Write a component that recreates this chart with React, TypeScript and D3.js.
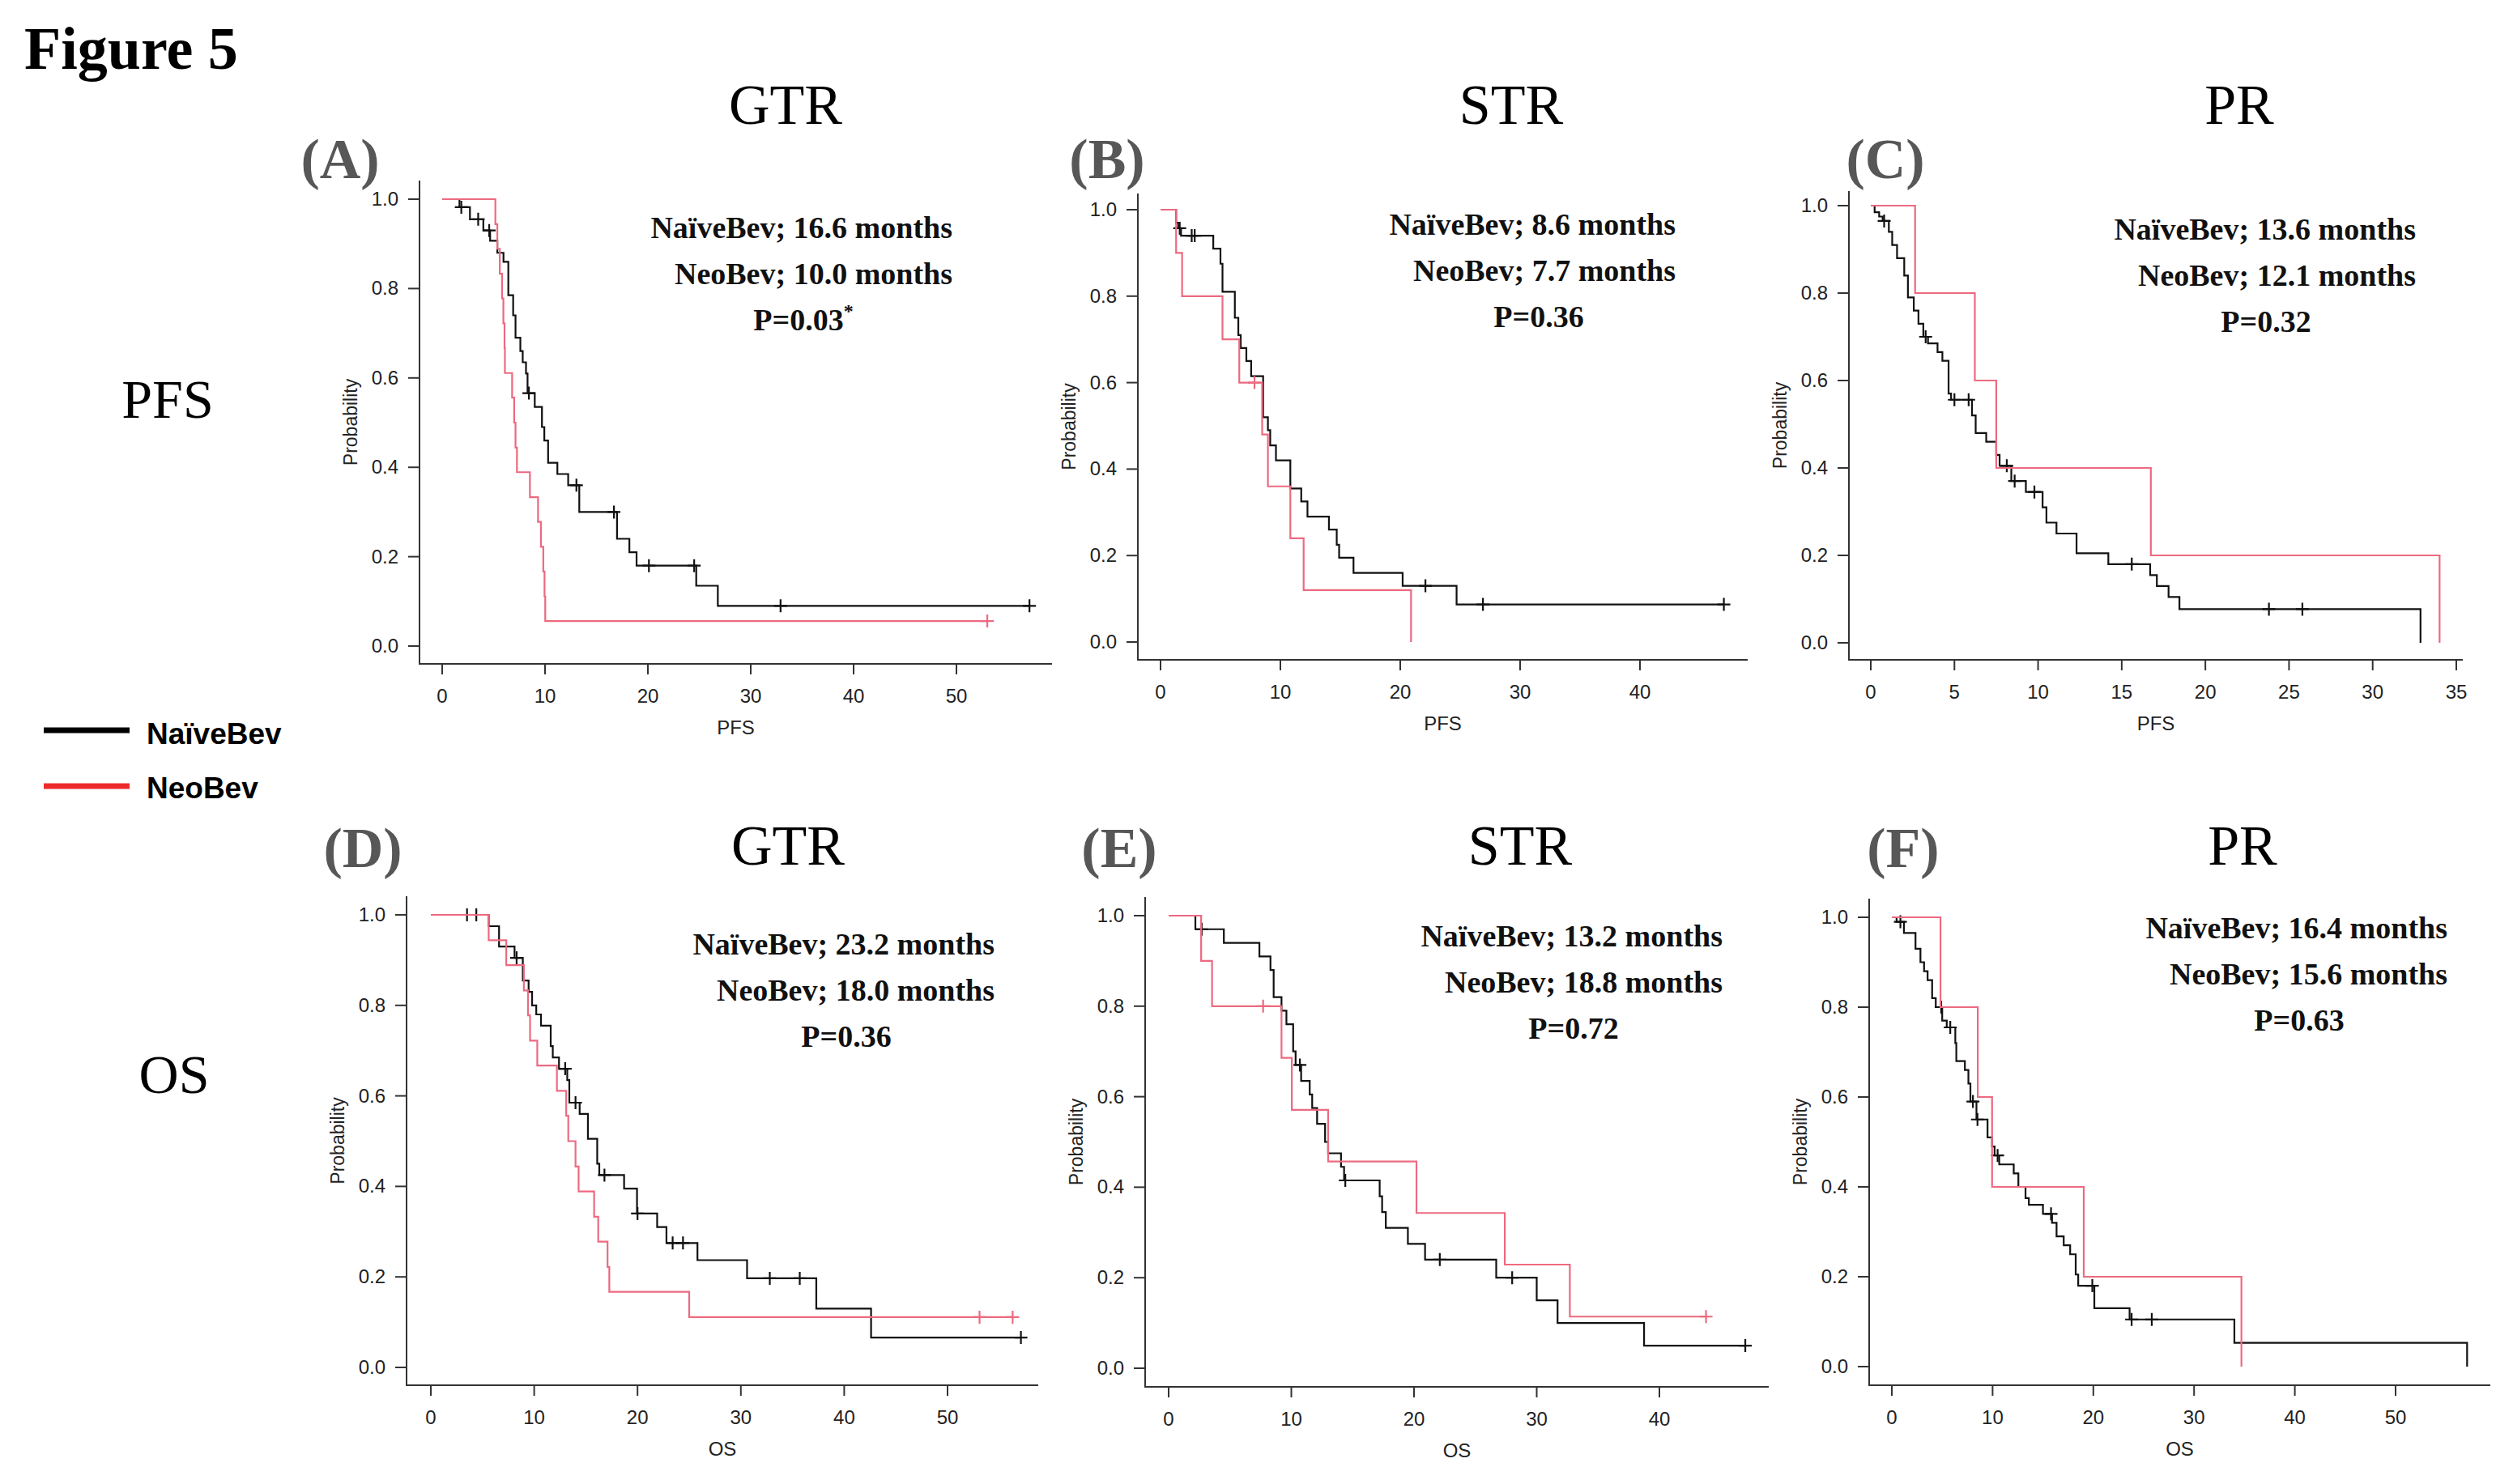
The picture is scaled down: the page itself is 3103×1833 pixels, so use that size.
import React from 'react';
import * as d3 from 'd3';

type Pt = [number, number];

const W = 3103;
const H = 1833;
const SERIF = '"Liberation Serif", "Times New Roman", serif';
const SANS = '"Liberation Sans", Arial, sans-serif';
const NAIVE_COLOR = '#111111';
const NEO_COLOR = '#ec6a80';

// Kaplan-Meier steps: [time, survival after the drop]; censor marks are times only

// (A) PFS, GTR
const pfsGtrNaive: Pt[] = [
  [1.68, 0.982], [2.7, 0.955], [4.0, 0.93], [4.66, 0.907], [5.36, 0.88], [5.96, 0.86],
  [6.43, 0.785], [6.9, 0.74], [7.13, 0.69], [7.6, 0.66], [7.83, 0.635], [8.15, 0.61],
  [8.3, 0.566], [9.0, 0.535], [9.7, 0.49], [9.93, 0.46], [10.3, 0.41], [11.2, 0.385],
  [12.25, 0.36], [13.33, 0.3], [17.0, 0.24], [18.2, 0.21], [18.9, 0.18], [24.7, 0.135],
  [26.8, 0.09],
];
const pfsGtrNaiveCens = [1.86, 3.5, 4.57, 8.43, 13.05, 16.7, 20.1, 24.5, 32.9, 57.1];
const pfsGtrNeo: Pt[] = [
  [5.17, 0.944], [5.36, 0.889], [5.6, 0.833], [5.82, 0.778], [5.95, 0.722], [6.06, 0.667],
  [6.1, 0.611], [6.8, 0.556], [7.0, 0.5], [7.13, 0.444], [7.27, 0.389], [8.53, 0.333],
  [9.32, 0.278], [9.6, 0.222], [9.83, 0.167], [9.95, 0.111], [10.02, 0.056],
];
const pfsGtrNeoCens = [53.0];

// (B) PFS, STR
const pfsStrNaive: Pt[] = [
  [1.3, 0.97], [1.47, 0.957], [1.71, 0.94], [4.4, 0.91], [5.0, 0.875], [5.17, 0.81],
  [6.2, 0.75], [6.49, 0.71], [6.69, 0.68], [7.16, 0.65], [7.56, 0.615], [8.56, 0.52],
  [8.96, 0.49], [9.15, 0.455], [9.63, 0.42], [10.83, 0.355], [11.74, 0.325], [12.26, 0.29],
  [14.05, 0.26], [14.7, 0.225], [14.9, 0.195], [16.1, 0.16], [20.2, 0.13], [24.7, 0.087],
];
const pfsStrNaiveCens = [1.6, 2.6, 2.85, 22.1, 26.9, 47.0];
const pfsStrNeo: Pt[] = [
  [1.3, 0.9], [1.8, 0.8], [5.17, 0.7], [6.57, 0.6], [8.48, 0.48], [8.96, 0.36],
  [10.83, 0.24], [11.94, 0.12], [20.9, 0],
];
const pfsStrNeoCens = [7.84];

// (C) PFS, PR
const pfsPrNaive: Pt[] = [
  [0.23, 0.985], [0.5, 0.975], [0.71, 0.965], [1.08, 0.94], [1.28, 0.91], [1.57, 0.88],
  [2.0, 0.84], [2.22, 0.79], [2.57, 0.76], [2.85, 0.73], [3.14, 0.7], [3.42, 0.685],
  [3.99, 0.665], [4.28, 0.645], [4.65, 0.57], [4.8, 0.556], [6.05, 0.52], [6.27, 0.48],
  [6.9, 0.46], [7.5, 0.43], [7.7, 0.405], [8.4, 0.37], [9.27, 0.345], [10.27, 0.31],
  [10.5, 0.275], [11.1, 0.25], [12.3, 0.205], [14.2, 0.18], [16.7, 0.155], [17.1, 0.13],
  [17.8, 0.105], [18.45, 0.077], [32.86, 0],
];
const pfsPrNaiveCens = [0.8, 3.28, 5.0, 5.85, 8.13, 8.6, 9.78, 15.6, 23.8, 25.8];
const pfsPrNeo: Pt[] = [[2.65, 0.8], [6.22, 0.6], [7.5, 0.4], [16.74, 0.2], [34.0, 0]];
const pfsPrNeoCens: number[] = [];

// (D) OS, GTR
const osGtrNaive: Pt[] = [
  [5.6, 0.975], [6.6, 0.93], [8.1, 0.905], [8.9, 0.855], [9.46, 0.83], [9.8, 0.8],
  [10.2, 0.78], [10.66, 0.755], [11.6, 0.71], [11.8, 0.685], [12.4, 0.66], [13.2, 0.635],
  [13.4, 0.585], [14.4, 0.56], [15.2, 0.505], [16.1, 0.45], [16.3, 0.425], [18.7, 0.395],
  [19.95, 0.34], [21.9, 0.31], [22.8, 0.275], [25.8, 0.237], [30.6, 0.197], [37.3, 0.13],
  [42.6, 0.066],
];
const osGtrNaiveCens = [3.5, 4.4, 8.3, 13.0, 14.0, 16.8, 20.0, 23.4, 24.4, 32.8, 35.7, 57.1];
const osGtrNeo: Pt[] = [
  [5.6, 0.944], [7.3, 0.889], [9.0, 0.833], [9.4, 0.778], [9.6, 0.722], [10.3, 0.667],
  [12.2, 0.611], [13.1, 0.556], [13.3, 0.5], [14.0, 0.444], [14.3, 0.389], [15.8, 0.333],
  [16.2, 0.278], [17.1, 0.222], [17.27, 0.167], [25.0, 0.111],
];
const osGtrNeoCens = [53.1, 56.3];

// (E) OS, STR
const osStrNaive: Pt[] = [
  [2.18, 0.97], [4.5, 0.94], [7.4, 0.91], [8.3, 0.88], [8.56, 0.82], [9.2, 0.79],
  [9.6, 0.76], [10.15, 0.7], [10.35, 0.67], [10.8, 0.635], [11.5, 0.605], [11.7, 0.575],
  [12.1, 0.54], [12.75, 0.5], [13.0, 0.475], [14.05, 0.445], [14.3, 0.415], [17.2, 0.38],
  [17.4, 0.345], [17.7, 0.31], [19.5, 0.275], [20.9, 0.24], [26.7, 0.2], [30.0, 0.15],
  [31.7, 0.1], [38.75, 0.05],
];
const osStrNaiveCens = [2.7, 10.7, 14.4, 22.1, 28.0, 47.0];
const osStrNeo: Pt[] = [
  [2.65, 0.9], [3.54, 0.8], [9.2, 0.686], [10.04, 0.571], [13.0, 0.457], [20.2, 0.343],
  [27.4, 0.229], [32.7, 0.114],
];
const osStrNeoCens = [7.7, 43.8];

// (F) OS, PR
const osPrNaive: Pt[] = [
  [0.47, 0.99], [1.2, 0.965], [2.35, 0.93], [2.84, 0.9], [3.2, 0.88], [3.55, 0.86],
  [4.0, 0.82], [4.36, 0.8], [5.0, 0.77], [5.45, 0.755], [6.3, 0.72], [6.4, 0.68],
  [7.25, 0.66], [7.6, 0.63], [7.8, 0.59], [8.4, 0.55], [9.5, 0.51], [9.95, 0.49],
  [10.2, 0.47], [10.66, 0.45], [12.1, 0.43], [12.56, 0.4], [13.27, 0.375], [13.6, 0.36],
  [15.0, 0.34], [15.9, 0.32], [16.35, 0.29], [17.06, 0.27], [17.7, 0.25], [18.25, 0.205],
  [18.5, 0.18], [20.1, 0.13], [23.6, 0.105], [34.0, 0.053], [57.1, 0],
];
const osPrNaiveCens = [0.85, 4.9, 5.8, 8.05, 8.5, 10.5, 15.8, 19.9, 23.8, 25.8];
const osPrNeo: Pt[] = [[4.83, 0.8], [8.53, 0.6], [9.95, 0.4], [19.05, 0.2], [34.7, 0]];
const osPrNeoCens: number[] = [];

const yTicks = [0, 0.2, 0.4, 0.6, 0.8, 1.0];
const columnTitles = ['GTR', 'STR', 'PR'];
const panelLetters = ['(A)', '(B)', '(C)', '(D)', '(E)', '(F)'];
const medianNaive = ['16.6', '8.6', '13.6', '23.2', '13.2', '16.4'];
const medianNeo = ['10.0', '7.7', '12.1', '18.0', '18.8', '15.6'];
const pValues = ['0.03', '0.36', '0.32', '0.36', '0.72', '0.63'];
const significant = [true, false, false, false, false, false];
const xMax = [50, 40, 35, 50, 40, 50];
const xStep = [10, 10, 5, 10, 10, 10];

interface Layout {
  left: number; right: number; top: number; bottom: number;
  x0: number; x1: number; y0: number; y1: number;
  textRight: number; pCenter: number; textY: number;
}

const layouts: Layout[] = [
  { left: 518, right: 1299, top: 223, bottom: 820, x0: 546, x1: 1181, y0: 798, y1: 246, textRight: 1176, pCenter: 992, textY: 294 },
  { left: 1405, right: 2158, top: 239, bottom: 815, x0: 1433, x1: 2025, y0: 793, y1: 259, textRight: 2069, pCenter: 1900, textY: 290 },
  { left: 2283, right: 3041, top: 236, bottom: 815, x0: 2310, x1: 3033, y0: 794, y1: 254, textRight: 2983, pCenter: 2798, textY: 296 },
  { left: 502, right: 1282, top: 1107, bottom: 1711, x0: 532, x1: 1170, y0: 1689, y1: 1130, textRight: 1228, pCenter: 1045, textY: 1179 },
  { left: 1414, right: 2184, top: 1108, bottom: 1713, x0: 1443, x1: 2049, y0: 1690, y1: 1131, textRight: 2127, pCenter: 1943, textY: 1169 },
  { left: 2308, right: 3075, top: 1110, bottom: 1711, x0: 2336, x1: 2958, y0: 1688, y1: 1133, textRight: 3022, pCenter: 2839, textY: 1159 },
];

const naiveSeries = [pfsGtrNaive, pfsStrNaive, pfsPrNaive, osGtrNaive, osStrNaive, osPrNaive];
const naiveCens = [pfsGtrNaiveCens, pfsStrNaiveCens, pfsPrNaiveCens, osGtrNaiveCens, osStrNaiveCens, osPrNaiveCens];
const neoSeries = [pfsGtrNeo, pfsStrNeo, pfsPrNeo, osGtrNeo, osStrNeo, osPrNeo];
const neoCens = [pfsGtrNeoCens, pfsStrNeoCens, pfsPrNeoCens, osGtrNeoCens, osStrNeoCens, osPrNeoCens];

function survAt(steps: Pt[], t: number) {
  let s = 1;
  for (const [ti, si] of steps) if (ti <= t) s = si;
  return s;
}

const Curve: React.FC<{
  steps: Pt[]; cens: number[]; color: string;
  x: d3.ScaleLinear<number, number>; y: d3.ScaleLinear<number, number>;
}> = ({ steps, cens, color, x, y }) => {
  const last = steps[steps.length - 1];
  const end = Math.max(last[0], ...cens);
  const pts: Pt[] = [[0, 1], ...steps];
  if (end > last[0]) pts.push([end, last[1]]);
  const line = d3.line<Pt>().x(d => x(d[0])).y(d => y(d[1])).curve(d3.curveStepAfter);
  const m = 8;
  return (
    <g stroke={color} fill="none" strokeWidth={2.2}>
      <path d={line(pts) || ''} />
      {cens.map((t, i) => {
        const cx = x(t);
        const cy = y(survAt(steps, t));
        return <path key={i} d={`M${cx - m},${cy}H${cx + m}M${cx},${cy - m}V${cy + m}`} />;
      })}
    </g>
  );
};

const Panel: React.FC<{ i: number }> = ({ i }) => {
  const L = layouts[i];
  const x = d3.scaleLinear().domain([0, xMax[i]]).range([L.x0, L.x1]);
  const y = d3.scaleLinear().domain([0, 1]).range([L.y0, L.y1]);
  const xTicks = d3.range(0, xMax[i] + 0.001, xStep[i]);
  const axisColor = '#333';
  const midX = (L.left + L.right) / 2;
  const midY = (L.top + L.bottom) / 2;
  return (
    <g>
      {/* L-shaped frame */}
      <path d={`M${L.left},${L.top}V${L.bottom}H${L.right}`} stroke={axisColor} strokeWidth={2} fill="none" />
      {yTicks.map(v => (
        <g key={v}>
          <line x1={L.left - 14} x2={L.left} y1={y(v)} y2={y(v)} stroke={axisColor} strokeWidth={2} />
          <text x={L.left - 26} y={y(v) + 8} textAnchor="end" fontFamily={SANS} fontSize={24} fill="#222">
            {v.toFixed(1)}
          </text>
        </g>
      ))}
      {xTicks.map(v => (
        <g key={v}>
          <line x1={x(v)} x2={x(v)} y1={L.bottom} y2={L.bottom + 13} stroke={axisColor} strokeWidth={2} />
          <text x={x(v)} y={L.bottom + 48} textAnchor="middle" fontFamily={SANS} fontSize={24} fill="#222">
            {v}
          </text>
        </g>
      ))}
      <text x={midX} y={L.bottom + 87} textAnchor="middle" fontFamily={SANS} fontSize={24} fill="#222">
        {i < 3 ? 'PFS' : 'OS'}
      </text>
      <text transform={`translate(${L.left - 77},${midY}) rotate(-90)`} textAnchor="middle" fontFamily={SANS} fontSize={23} fill="#222">
        Probability
      </text>
      <Curve steps={naiveSeries[i]} cens={naiveCens[i]} color={NAIVE_COLOR} x={x} y={y} />
      <Curve steps={neoSeries[i]} cens={neoCens[i]} color={NEO_COLOR} x={x} y={y} />
      <g fontFamily={SERIF} fontWeight="bold" fontSize={38} fill="#111">
        <text x={L.textRight} y={L.textY} textAnchor="end">{`NaïveBev; ${medianNaive[i]} months`}</text>
        <text x={L.textRight} y={L.textY + 57} textAnchor="end">{`NeoBev; ${medianNeo[i]} months`}</text>
        <text x={L.pCenter} y={L.textY + 114} textAnchor="middle">
          {`P=${pValues[i]}`}
          {significant[i] && <tspan fontSize={24} dy={-16}>*</tspan>}
        </text>
      </g>
    </g>
  );
};

const titleX = [[970, 1866, 2765], [973, 1877, 2769]];
const titleY = [153, 1068];
const letterX = [[420, 1367, 2328], [448, 1382, 2350]];
const letterY = [220, 1071];

export default function App() {
  return (
    <svg
      width={W}
      height={H}
      viewBox={`0 0 ${W} ${H}`}
      style={{ display: 'block', background: '#fff', position: 'absolute', left: 0, top: 0 }}
    >
      <rect width={W} height={H} fill="#fff" />
      <text x={30} y={85} fontFamily={SERIF} fontWeight="bold" fontSize={74} fill="#000">Figure 5</text>
      {[0, 1].map(r => (
        <g key={r}>
          {columnTitles.map((t, c) => (
            <text key={t} x={titleX[r][c]} y={titleY[r]} textAnchor="middle" fontFamily={SERIF} fontSize={70} fill="#000">{t}</text>
          ))}
          {[0, 1, 2].map(c => (
            <text key={c} x={letterX[r][c]} y={letterY[r]} textAnchor="middle" fontFamily={SERIF} fontWeight="bold" fontSize={70} fill="#575757">
              {panelLetters[r * 3 + c]}
            </text>
          ))}
        </g>
      ))}
      <text x={207} y={516} textAnchor="middle" fontFamily={SERIF} fontSize={68} fill="#000">PFS</text>
      <text x={215} y={1350} textAnchor="middle" fontFamily={SERIF} fontSize={68} fill="#000">OS</text>
      {/* legend */}
      <line x1={54} x2={160} y1={902} y2={902} stroke="#000" strokeWidth={7} />
      <text x={181} y={919} fontFamily={SANS} fontWeight="bold" fontSize={37} fill="#000">NaïveBev</text>
      <line x1={54} x2={160} y1={971} y2={971} stroke="#ee2b2b" strokeWidth={7} />
      <text x={181} y={986} fontFamily={SANS} fontWeight="bold" fontSize={37} fill="#000">NeoBev</text>
      {[0, 1, 2, 3, 4, 5].map(i => <Panel key={i} i={i} />)}
    </svg>
  );
}
